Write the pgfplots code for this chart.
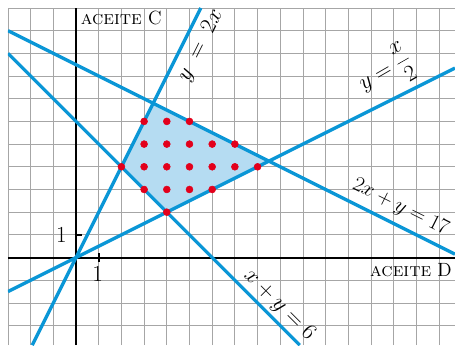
\documentclass[border=0pt]{standalone}
\usepackage{pgfplots}
\pgfplotsset{compat=1.18}
\definecolor{lineblue}{HTML}{0A96D6}
\definecolor{regionblue}{HTML}{B5DCF2}
\definecolor{dotred}{HTML}{E3001B}
\begin{document}
\begin{tikzpicture}
\begin{axis}[
  x=0.6cm, y=0.6cm,
  xmin=-3, xmax=16.7, ymin=-3.86, ymax=11,
  axis line style={draw=none},
  xtick={-3,...,16}, ytick={-3,...,11},
  xticklabels={}, yticklabels={},
  major tick length=0pt,
  grid=major,
  major grid style={draw=gray!70, line width=0.6pt},
]
% feasible region
\addplot[fill=regionblue, draw=none] coordinates {(2,4) (3.4,6.8) (8.5,4.25) (4,2)};
% axes
\addplot[black, line width=1.5pt] coordinates {(-3,0) (16.7,0)};
\addplot[black, line width=1.5pt] coordinates {(0,-3.86) (0,11)};
\draw[black, line width=1.3pt] (1,-0.2) -- (1,0.2);
\draw[black, line width=1.3pt] (0,1) -- (0.25,1);
% constraint lines
\addplot[lineblue, line width=2.5pt] coordinates {(-1.93,-3.86) (5.5,11)};
\addplot[lineblue, line width=2.5pt] coordinates {(-3,-1.5) (16.7,8.35)};
\addplot[lineblue, line width=2.5pt] coordinates {(-3,10) (16.7,0.15)};
\addplot[lineblue, line width=2.5pt] coordinates {(-3,9) (9.86,-3.86)};
% integer points
\addplot[only marks, mark=*, mark size=2.6pt, dotred] coordinates {
  (2,4) (3,4) (4,4) (5,4) (6,4) (7,4) (8,4)
  (3,5) (4,5) (5,5) (6,5) (7,5)
  (3,6) (4,6) (5,6)
  (3,3) (4,3) (5,3) (6,3)
  (4,2)};
% labels
\node[rotate=63.4, inner sep=0pt] at (5.5,9.35) {\LARGE$y\;=\;2x$};
\node[rotate=30, inner sep=0pt] at (13.65,8.17) {\LARGE$y = \displaystyle\frac{x}{2}$};
\node[rotate=-26.6, inner sep=0pt, scale=0.93] at (14.3,2.2) {\LARGE$2x + y = 17$};
\node[rotate=-45, inner sep=0pt] at (8.96,-2.09) {\LARGE$x + y = 6$};
\node[anchor=base west, inner sep=0pt] at (0.2,10.25) {\Large\textsc{aceite} C};
\node[anchor=base east, inner sep=0pt] at (16.57,-0.85) {\Large\textsc{aceite} D};
\node[inner sep=0pt] at (-0.64,1) {\LARGE 1};
\node[inner sep=0pt] at (0.95,-0.7) {\LARGE 1};
\end{axis}
\pgfresetboundingbox
\path ([shift={(-0.21cm,0.21cm)}]current axis.north west) rectangle (current axis.south east);
\end{tikzpicture}
\end{document}
